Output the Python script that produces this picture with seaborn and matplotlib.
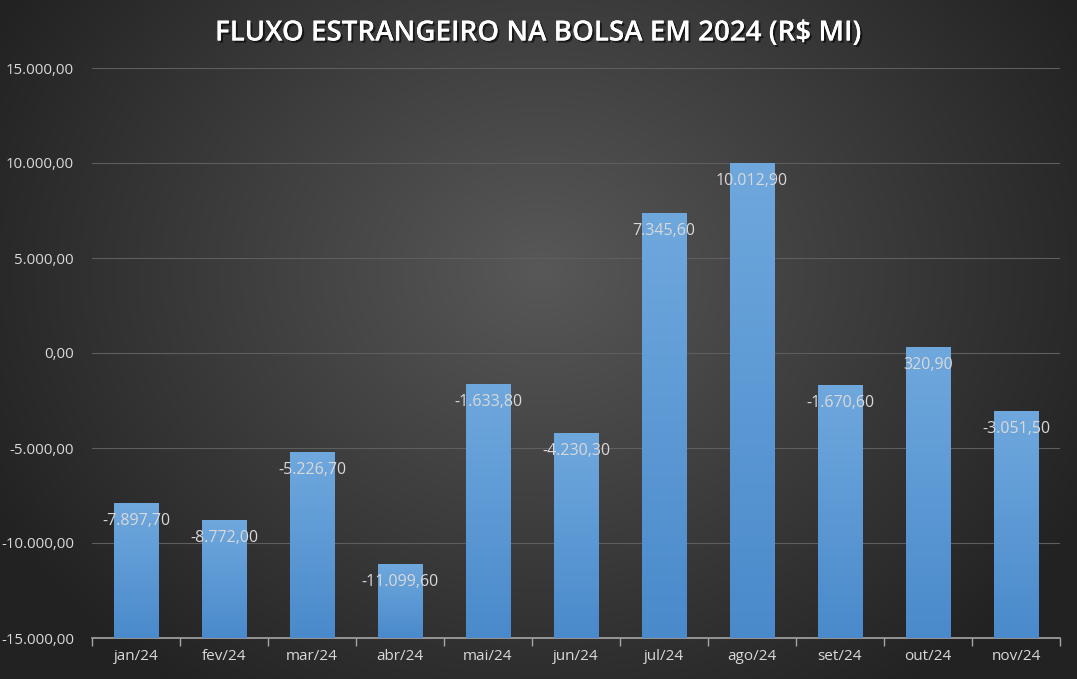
import numpy as np
import pandas as pd
import matplotlib
matplotlib.use("Agg")
import matplotlib.pyplot as plt
import matplotlib.patheffects as pe
from matplotlib.colors import LinearSegmentedColormap
import seaborn as sns

months = ["jan/24", "fev/24", "mar/24", "abr/24", "mai/24", "jun/24",
          "jul/24", "ago/24", "set/24", "out/24", "nov/24"]
values = [-7897.70, -8772.00, -5226.70, -11099.60, -1633.80, -4230.30,
          7345.60, 10012.90, -1670.60, 320.90, -3051.50]
yticks = [-15000, -10000, -5000, 0, 5000, 10000, 15000]
title = "FLUXO ESTRANGEIRO NA BOLSA EM 2024 (R$ MI)"

def br(v):
    s = f"{v:,.2f}"
    return s.replace(",", "X").replace(".", ",").replace("X", ".")

sns.set_theme(style="white")
plt.rcParams['font.family'] = ['Open Sans', 'DejaVu Sans']

W, H = 1077, 679
fig = plt.figure(figsize=(W / 100, H / 100), dpi=100)

# radial gradient background
bg = fig.add_axes([0, 0, 1, 1], zorder=-10)
yy, xx = np.mgrid[0:H, 0:W]
d = np.sqrt(((xx - 540) / 620) ** 2 + ((yy - 270) / 520) ** 2)
d = np.clip(d, 0, 1)
c0 = np.array([0x58, 0x58, 0x58]) / 255
c1 = np.array([0x22, 0x22, 0x22]) / 255
img = c0[None, None, :] * (1 - d[..., None]) + c1[None, None, :] * d[..., None]
bg.imshow(img, aspect='auto', extent=[0, 1, 0, 1], origin='upper')
bg.axis('off')

ax = fig.add_axes([92 / W, 1 - 638 / H, (1060 - 92) / W, (638 - 68) / H])
ax.patch.set_alpha(0)

df = pd.DataFrame({"mes": months, "valor": values})
sns.barplot(data=df, x="mes", y="valor", ax=ax, width=0.51,
            color="#5b9bd5", edgecolor="#41719c", linewidth=0.6, zorder=3)

ax.set_ylim(-15000, 15000)
ax.set_xlim(-0.5, len(months) - 0.5)

cmap = LinearSegmentedColormap.from_list("bar", ["#4a8acb", "#6fa8dd"])
grad = np.linspace(0, 1, 256).reshape(-1, 1)
for p, v in zip(ax.patches, values):
    p.set_y(-15000)
    p.set_height(v + 15000)
    x0 = p.get_x()
    w = p.get_width()
    im = ax.imshow(grad, cmap=cmap, aspect='auto', origin='lower',
                   extent=[x0, x0 + w, -15000, v], zorder=3.5)
    im.set_clip_path(p)
    ax.text(x0 + w / 2, v - 950, br(v), ha='center', va='center',
            color='#d9d9d9', fontsize=11.5, zorder=5)

ax.set_yticks(yticks)
ax.set_yticklabels([br(t) for t in yticks], color='#d9d9d9', fontsize=10.8)
ax.tick_params(axis='y', length=0, pad=13)
ax.set_xticks(range(len(months)))
ax.set_xticklabels(months)
ax.tick_params(axis='x', which='major', length=0, pad=8, labelsize=11, labelcolor='#d9d9d9')
ax.set_xticks(np.arange(-0.5, len(months), 1), minor=True)
ax.tick_params(axis='x', which='minor', bottom=True, length=6, width=1,
               color='#a6a6a6', direction='out')
ax.set_xlabel("")
ax.set_ylabel("")

for t in yticks[1:]:
    ax.axhline(t, color='#5e5e5e', lw=0.8, zorder=1)

for s in ['top', 'right', 'left']:
    ax.spines[s].set_visible(False)
ax.spines['bottom'].set_color('#a6a6a6')
ax.spines['bottom'].set_linewidth(1.2)

fig.text(0.5, 1 - 33 / H, title, ha='center', va='center', color='white',
         fontsize=20, fontweight='semibold',
         path_effects=[pe.withSimplePatchShadow(offset=(1.5, -1.5), shadow_rgbFace='black', alpha=0.6),
                       pe.Normal()])

fig.savefig("out.png", dpi=100)
